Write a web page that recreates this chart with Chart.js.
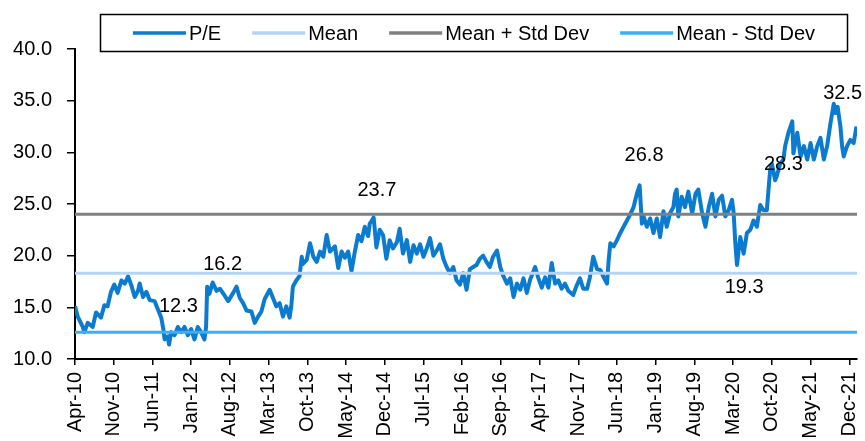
<!DOCTYPE html>
<html>
<head>
<meta charset="utf-8">
<script src="https://cdn.jsdelivr.net/npm/chart.js@4/dist/chart.umd.min.js"></script>
<style>
  html, body { margin: 0; padding: 0; background: #fff; }
  #wrap { width: 865px; height: 441px; }
</style>
</head>
<body>
<div id="wrap"><canvas id="c" width="865" height="441"></canvas></div>
<script>
// ---- Data (x = months since Apr-2010) ----
const tickLabels = ['Apr-10','Nov-10','Jun-11','Jan-12','Aug-12','Mar-13','Oct-13','May-14','Dec-14','Jul-15','Feb-16','Sep-16','Apr-17','Nov-17','Jun-18','Jan-19','Aug-19','Mar-20','Oct-20','May-21','Dec-21'];
const tickMonths = [0,7,14,21,28,35,42,49,56,63,70,77,84,91,98,105,112,119,126,133,140];

const peMonths = [
  0,0.5,1.4,1.7,2.3,3.2,3.8,4.7,5.3,5.9,6.5,7.1,7.7,8.4,9.0,9.6,10.2,10.8,11.4,11.7,
  12.3,12.9,13.5,14.4,15.0,15.6,16.0,16.2,16.8,17.0,17.4,18.0,18.6,19.2,19.8,20.4,21.0,21.6,22.2,22.8,
  23.4,23.7,23.9,24.3,24.9,25.6,26.2,27.1,27.7,28.6,29.2,29.8,30.4,31.0,31.9,32.5,33.1,33.7,34.3,35.2,
  35.8,36.4,37.0,37.6,38.2,38.8,39.1,39.4,40.0,40.6,41.0,41.2,41.9,42.5,43.1,43.7,44.3,44.9,45.5,46.1,
  47.0,47.6,48.2,48.8,49.4,50.0,50.6,51.2,51.8,52.4,53.0,53.3,53.7,54.0,54.5,55.1,55.7,56.3,56.9,57.5,
  58.2,58.7,59.3,60.0,60.6,61.2,61.8,62.4,63.0,63.6,64.2,64.8,65.4,66.0,66.6,67.2,67.8,68.4,69.0,69.6,
  70.2,70.8,71.4,72.0,72.6,73.2,73.8,74.4,75.0,75.6,76.3,76.9,77.4,78.1,78.7,79.3,79.9,80.5,81.1,81.7,
  82.3,83.2,83.8,84.4,85.0,85.6,86.2,86.8,87.4,88.0,88.6,89.2,90.1,90.7,91.3,91.9,92.6,93.1,93.7,94.4,
  95.0,95.6,96.2,96.5,96.8,97.4,98.0,98.6,99.2,99.8,100.4,101.0,101.6,102.1,102.5,102.8,103.4,104.0,104.6,105.2,
  105.8,106.4,107.0,107.6,108.2,108.5,108.8,109.1,109.7,110.3,110.9,111.6,112.2,112.7,113.4,114.0,114.6,115.2,115.8,116.4,
  117.0,117.6,118.2,118.8,119.1,119.4,119.7,120.0,120.3,120.9,121.5,122.1,122.7,123.3,123.9,124.5,125.1,125.4,125.7,126.0,
  126.6,126.9,127.5,128.1,128.4,129.0,129.7,129.9,130.6,131.2,131.8,132.4,133.0,133.6,134.2,134.8,135.4,136.0,136.6,137.2,
  137.5,137.9,138.4,138.7,139.0,139.6,140.2,140.8,141.3
];
const peValues = [
  15.1,14.1,13.1,12.6,13.5,13.1,14.5,14.0,15.2,15.1,16.5,17.2,16.4,17.6,17.3,18.0,17.1,16.0,16.6,17.3,
  16.0,16.5,15.7,15.6,14.8,14.0,12.8,11.9,12.2,11.4,12.6,12.3,13.1,12.6,13.1,12.3,12.9,11.9,13.1,12.6,
  11.9,13.1,17.0,16.3,17.4,16.6,16.8,16.1,15.6,16.4,17.0,15.9,15.4,14.7,14.6,13.5,14.1,14.6,15.8,16.7,
  15.9,15.1,15.4,14.1,15.1,14.0,15.1,17.0,17.6,18.0,19.9,19.2,19.6,21.2,19.9,19.4,20.4,19.9,22.0,20.4,
  20.9,18.8,20.4,19.8,20.4,18.5,20.4,22.0,21.4,22.8,21.9,23.1,23.4,23.7,20.8,22.5,22.0,19.7,21.5,20.7,
  21.3,22.6,20.2,21.5,19.4,21.0,20.2,21.1,19.9,20.7,21.7,20.0,20.5,21.1,19.7,18.9,18.3,18.9,17.6,17.2,
  18.3,16.7,18.7,18.9,19.1,19.7,20.0,19.4,18.9,19.9,20.5,18.9,18.1,17.3,17.8,16.0,17.3,16.7,17.8,16.4,
  17.7,18.9,17.8,16.9,17.9,16.9,19.3,17.3,17.6,16.8,17.3,16.6,16.2,17.1,17.8,16.8,16.8,17.9,19.9,18.7,
  18.6,17.9,17.3,19.6,21.2,20.9,21.5,22.2,22.8,23.4,24.0,24.7,26.0,26.8,23.1,23.8,22.8,23.6,22.2,23.6,
  21.8,24.3,22.8,24.1,24.7,26.0,26.4,23.8,25.7,24.7,26.2,24.1,26.0,26.4,24.1,22.8,24.7,26.0,23.8,25.4,
  25.8,23.8,24.4,25.4,24.1,21.2,19.1,20.5,21.8,20.2,22.2,22.5,23.4,22.8,24.9,24.4,24.4,26.4,28.3,28.9,
  27.3,27.7,28.9,29.3,30.6,31.9,33.0,29.9,31.9,29.6,30.6,29.3,30.9,29.3,30.6,31.4,29.3,30.6,32.8,34.7,
  33.8,34.4,32.5,30.6,29.6,30.6,31.2,30.9,32.5
];

const meanValue = 18.3;
const meanPlusStd = 24.0;
const meanMinusStd = 12.6;
const lineSpan = [0, 141.4];

const annTexts  = ['12.3','16.2','23.7','26.8','19.3','28.3','32.5'];
const annMonths = [18.7, 26.7, 54.6, 102.9, 121.0, 128.1, 138.8];
const annValues = [15.1, 19.1, 26.3, 29.7, 16.9, 28.8, 35.7];

const seriesNames = ['P/E', 'Mean', 'Mean + Std Dev', 'Mean - Std Dev'];
const seriesColors = ['#0B7BCF', '#B5D4F4', '#808080', '#3CAEF2'];

const FONT = '"Liberation Sans", Arial, Helvetica, sans-serif';

// ---- Build datasets ----
const pePoints = peMonths.map((m, i) => ({ x: m, y: peValues[i] }));
const flat = v => lineSpan.map(m => ({ x: m, y: v }));

const datasets = [
  { label: seriesNames[0], data: pePoints, borderColor: seriesColors[0], borderWidth: 4, order: 4 },
  { label: seriesNames[1], data: flat(meanValue), borderColor: seriesColors[1], borderWidth: 3, order: 3 },
  { label: seriesNames[2], data: flat(meanPlusStd), borderColor: seriesColors[2], borderWidth: 3, order: 2 },
  { label: seriesNames[3], data: flat(meanMinusStd), borderColor: seriesColors[3], borderWidth: 3, order: 1 }
].map(d => Object.assign({ pointRadius: 0, pointHoverRadius: 0, tension: 0, fill: false, borderJoinStyle: 'round' }, d));

// ---- Plugins ----
const boxedLegend = {
  id: 'boxedLegend',
  afterDraw(chart) {
    const ctx = chart.ctx;
    ctx.save();
    ctx.strokeStyle = '#000';
    ctx.lineWidth = 1.5;
    ctx.strokeRect(100.5, 14.5, 747, 37);
    ctx.font = '20px ' + FONT;
    ctx.textBaseline = 'middle';
    ctx.textAlign = 'left';
    const sw = 53, gapTxt = 3, gapItem = 31;
    const items = chart.data.datasets.map(d => ({ label: d.label, color: d.borderColor, w: ctx.measureText(d.label).width }));
    let total = 0;
    items.forEach((it, i) => { total += sw + gapTxt + it.w + (i ? gapItem : 0); });
    let x = 474 - total / 2;
    const y = 33;
    items.forEach(it => {
      ctx.strokeStyle = it.color;
      ctx.lineWidth = 3.5;
      ctx.beginPath();
      ctx.moveTo(x, y);
      ctx.lineTo(x + sw, y);
      ctx.stroke();
      ctx.fillStyle = '#000';
      ctx.fillText(it.label, x + sw + gapTxt, y + 1);
      x += sw + gapTxt + it.w + gapItem;
    });
    ctx.restore();
  }
};

const valueLabels = {
  id: 'valueLabels',
  afterDatasetsDraw(chart) {
    const ctx = chart.ctx;
    const xs = chart.scales.x, ys = chart.scales.y;
    ctx.save();
    ctx.font = '20px ' + FONT;
    ctx.fillStyle = '#000';
    ctx.textAlign = 'center';
    ctx.textBaseline = 'middle';
    annTexts.forEach((t, i) => {
      ctx.fillText(t, xs.getPixelForValue(annMonths[i]), ys.getPixelForValue(annValues[i]));
    });
    ctx.restore();
  }
};

// ---- Chart ----
new Chart(document.getElementById('c'), {
  type: 'line',
  data: { datasets },
  options: {
    responsive: false,
    animation: false,
    events: [],
    layout: { padding: { top: 49, right: 8, bottom: 0, left: 0 } },
    plugins: { legend: { display: false }, tooltip: { enabled: false } },
    scales: {
      x: {
        type: 'linear',
        min: 0,
        max: lineSpan[1],
        afterBuildTicks: axis => { axis.ticks = tickMonths.map(v => ({ value: v })); },
        afterFit: s => { s.height = 82; s.paddingLeft = 0; s.paddingRight = 0; },
        ticks: {
          autoSkip: false,
          minRotation: 90,
          maxRotation: 90,
          padding: 7,
          color: '#000',
          font: { size: 20, family: FONT },
          callback: v => tickLabels[tickMonths.indexOf(v)]
        },
        grid: { drawOnChartArea: false, drawTicks: true, tickLength: 6, color: '#000', lineWidth: 1.5 },
        border: { display: true, color: '#000', width: 2 }
      },
      y: {
        min: 10,
        max: 40,
        afterFit: s => { s.width = 75; },
        ticks: {
          stepSize: 5,
          padding: 15,
          color: '#000',
          font: { size: 20, family: FONT },
          callback: v => Number(v).toFixed(1)
        },
        grid: { drawOnChartArea: false, drawTicks: true, tickLength: 8, color: '#000', lineWidth: 1.5 },
        border: { display: true, color: '#000', width: 2 }
      }
    }
  },
  plugins: [boxedLegend, valueLabels]
});
</script>
</body>
</html>
